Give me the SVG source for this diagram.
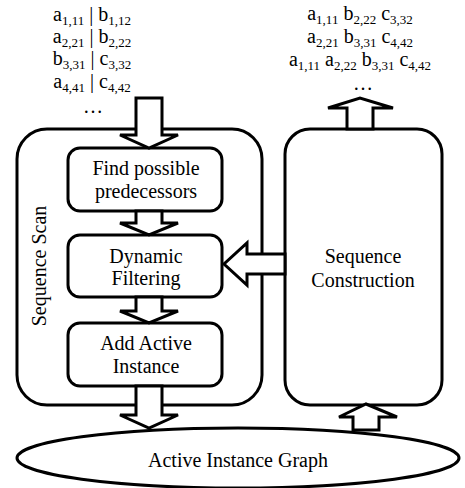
<svg xmlns="http://www.w3.org/2000/svg" width="465" height="488" viewBox="0 0 465 488">
<style>
.box{fill:#fff;stroke:#000;stroke-width:3}
.arr{fill:#fff;stroke:#000;stroke-width:3;stroke-linejoin:miter}
text{font-family:"Liberation Serif","Times New Roman",serif;font-size:20px;fill:#000}
.sub{font-size:13px}
.c{text-anchor:middle}
</style>
<rect width="465" height="488" fill="#fff"/>
<g id="ellipse-graph">
<ellipse cx="238" cy="458" rx="221" ry="30" class="box"/>
<text x="238" y="467" class="c">Active Instance Graph</text>
</g>
<g id="sequence-scan">
<rect x="17" y="129" width="245" height="276" rx="30" class="box"/>
<text transform="translate(46,266) rotate(-90)" class="c">Sequence Scan</text>
</g>
<g id="sequence-construction">
<rect x="285" y="129" width="157" height="276" rx="25" class="box"/>
<text x="363" y="263" class="c">Sequence</text>
<text x="363" y="287" class="c">Construction</text>
</g>
<g id="find">
<rect x="68" y="148" width="154" height="63" rx="12" class="box"/>
<text x="146" y="175" class="c">Find possible</text>
<text x="146" y="198" class="c">predecessors</text>
</g>
<g id="filter">
<rect x="68" y="235" width="154" height="62" rx="12" class="box"/>
<text x="146" y="263" class="c">Dynamic</text>
<text x="146" y="285" class="c">Filtering</text>
</g>
<g id="add">
<rect x="68" y="323" width="154" height="63" rx="12" class="box"/>
<text x="146" y="350" class="c">Add Active</text>
<text x="146" y="373" class="c">Instance</text>
</g>
<g id="connectors">
<polygon class="arr" points="136,98 162,98 162,135 178,135 149,148 120,135 136,135"/>
<polygon class="arr" points="136,211 162,211 162,223 178,223 149,235 120,223 136,223"/>
<polygon class="arr" points="136,297 162,297 162,311 178,311 149,323 120,311 136,311"/>
<polygon class="arr" points="136,386 162,386 162,415 178,415 149,428 120,415 136,415"/>
<polygon class="arr" points="285,254 285,274 247,274 247,285 224,264 247,243 247,254"/>
<polygon class="arr" points="353,430 379,430 379,417 397,417 366,404 339,417 353,417"/>
<polygon class="arr" points="347,129 373,129 373,108 393,108 360,98 328,108 347,108"/>
</g>
<g id="input-labels">
<text x="92" y="21" class="c">a<tspan class="sub" dy="4">1,11</tspan><tspan dy="-4"> | b</tspan><tspan class="sub" dy="4">1,12</tspan></text>
<text x="92" y="43" class="c">a<tspan class="sub" dy="4">2,21</tspan><tspan dy="-4"> | b</tspan><tspan class="sub" dy="4">2,22</tspan></text>
<text x="92" y="65" class="c">b<tspan class="sub" dy="4">3,31</tspan><tspan dy="-4"> | c</tspan><tspan class="sub" dy="4">3,32</tspan></text>
<text x="92" y="88" class="c">a<tspan class="sub" dy="4">4,41</tspan><tspan dy="-4"> | c</tspan><tspan class="sub" dy="4">4,42</tspan></text>
<text x="93" y="113" class="c">…</text>
</g>
<g id="output-labels">
<text x="360" y="20" class="c">a<tspan class="sub" dy="4">1,11</tspan><tspan dy="-4">  b</tspan><tspan class="sub" dy="4">2,22</tspan><tspan dy="-4">  c</tspan><tspan class="sub" dy="4">3,32</tspan></text>
<text x="360" y="43" class="c">a<tspan class="sub" dy="4">2,21</tspan><tspan dy="-4">  b</tspan><tspan class="sub" dy="4">3,31</tspan><tspan dy="-4">  c</tspan><tspan class="sub" dy="4">4,42</tspan></text>
<text x="360" y="66" class="c">a<tspan class="sub" dy="4">1,11</tspan><tspan dy="-4">  a</tspan><tspan class="sub" dy="4">2,22</tspan><tspan dy="-4">  b</tspan><tspan class="sub" dy="4">3,31</tspan><tspan dy="-4">  c</tspan><tspan class="sub" dy="4">4,42</tspan></text>
<text x="363" y="90" class="c">…</text>
</g>
</svg>
